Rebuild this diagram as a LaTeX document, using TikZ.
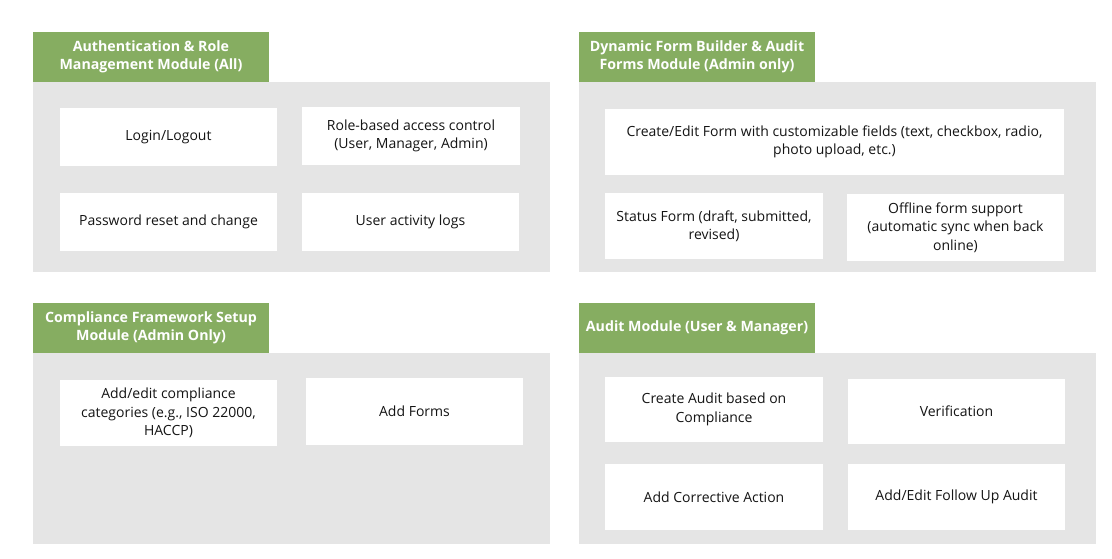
\documentclass[tikz,border=0pt]{standalone}
\usepackage{fontspec}
\setmainfont{Open Sans}
\definecolor{hdrgreen}{RGB}{134,173,97}
\definecolor{panelgray}{RGB}{229,229,229}
\definecolor{bodytext}{RGB}{20,20,20}
\begin{document}
\begin{tikzpicture}[x=1pt,y=-1pt,
  panelbox/.style 2 args={fill=panelgray, draw=none, inner sep=0pt, outer sep=0pt, minimum width=#1, minimum height=#2},
  hdrbox/.style={fill=hdrgreen, draw=none, text=white, inner sep=0pt, outer sep=0pt, minimum width=236pt, minimum height=50pt, align=center, font=\bfseries\fontsize{14.2}{18}\selectfont},
  itembox/.style 2 args={fill=white, draw=none, text=bodytext, inner sep=0pt, outer sep=0pt, minimum width=#1, minimum height=#2, align=center, font=\fontsize{14}{18.5}\selectfont}]
\useasboundingbox (0,0) rectangle (1112,558);
% Panel 1
\node[panelbox={517pt}{190pt}] (p1) at (291.5,177) {};
\node[hdrbox] (h1) at (151,57) {Authentication \& Role\\Management Module (All)};
\node[itembox={217pt}{58pt}] (login) at (168.5,137) {Login/Logout};
\node[itembox={218pt}{58pt}] (role) at (411,136) {Role-based access control\\(User, Manager, Admin)};
\node[itembox={217pt}{58pt}] (pwd) at (168.5,222) {Password reset and change};
\node[itembox={217pt}{58pt}] (logs) at (410.5,222) {User activity logs};
% Panel 2
\node[panelbox={517pt}{190pt}] (p2) at (837.5,177) {};
\node[hdrbox] (h2) at (697,57) {Dynamic Form Builder \& Audit\\Forms Module (Admin only)};
\node[itembox={459pt}{66pt}] (cef) at (834.5,142) {Create/Edit Form with customizable fields (text, checkbox, radio,\\photo upload, etc.)};
\node[itembox={218pt}{66pt}] (status) at (714,226) {Status Form (draft, submitted,\\revised)};
\node[itembox={217pt}{67pt}] (offline) at (955.5,227.5) {Offline form support\\(automatic sync when back\\online)};
% Panel 3
\node[panelbox={517pt}{191pt}] (p3) at (291.5,448.5) {};
\node[hdrbox] (h3) at (151,328) {Compliance Framework Setup\\Module (Admin Only)};
\node[itembox={217pt}{66pt}] (cat) at (168.5,413) {Add/edit compliance\\categories (e.g., ISO 22000,\\HACCP)};
\node[itembox={217pt}{67pt}] (forms) at (414.5,411.5) {Add Forms};
% Panel 4
\node[panelbox={517pt}{191pt}] (p4) at (837.5,448.5) {};
\node[hdrbox] (h4) at (697,328) {Audit Module (User \& Manager)};
\node[itembox={218pt}{65pt}] (caud) at (714,409.5) {Create Audit based on\\Compliance};
\node[itembox={217pt}{65pt}] (verif) at (956.5,411.5) {Verification};
\node[itembox={218pt}{66pt}] (corr) at (714,497) {Add Corrective Action};
\node[itembox={217pt}{66pt}] (follow) at (956.5,497) {Add/Edit Follow Up Audit};
\end{tikzpicture}
\end{document}
